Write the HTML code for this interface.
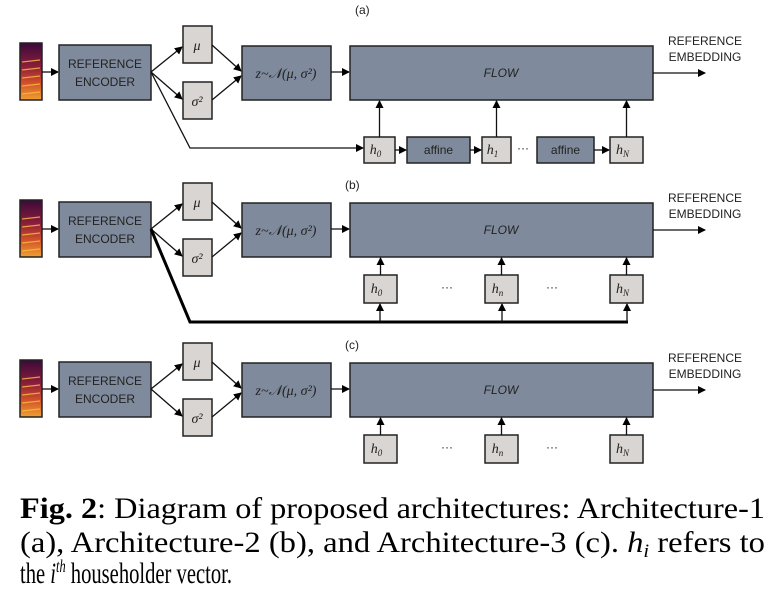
<!DOCTYPE html>
<html><head><meta charset="utf-8"><style>
html,body{margin:0;padding:0;background:#fff;}
svg{display:block;}
.d{fill:#7f8b9c;stroke:#222;stroke-width:1.5;}
.l{fill:#d8d5d2;stroke:#222;stroke-width:1.5;}
.t{font-family:"Liberation Sans",sans-serif;font-size:12px;fill:#222;}
.m{font-family:"Liberation Serif",serif;font-style:italic;font-size:14px;fill:#222;}
.ln{stroke:#111;stroke-width:1.3;fill:none;}
.cap{font-family:"Liberation Serif",serif;font-size:30px;fill:#000;}
</style></head><body>
<svg width="774" height="609" viewBox="0 0 774 609">
<defs>
<marker id="ar" markerWidth="8" markerHeight="8" refX="7" refY="4" orient="auto" markerUnits="userSpaceOnUse"><path d="M0,0 L8,4 L0,8 z" fill="#000"/></marker>
<linearGradient id="sp" x1="0" y1="0" x2="0" y2="1"><stop offset="0" stop-color="#3a0a3a"/><stop offset="0.4" stop-color="#8a1c3c"/><stop offset="0.7" stop-color="#d2502a"/><stop offset="1" stop-color="#f0a030"/></linearGradient>
</defs>
<g id="panels"></g>
<text class="cap" x="20" y="518" textLength="745" lengthAdjust="spacingAndGlyphs"><tspan font-weight="bold">Fig. 2</tspan>:  Diagram of proposed architectures:  Architecture-1</text>
<text class="cap" x="20" y="552" textLength="745" lengthAdjust="spacingAndGlyphs">(a), Architecture-2 (b), and Architecture-3 (c).  <tspan font-style="italic">h<tspan font-size="19" dy="5">i</tspan></tspan><tspan dy="-5"> refers to</tspan></text>
<text class="cap" x="20" y="583" textLength="212" lengthAdjust="spacingAndGlyphs">the <tspan font-style="italic">i<tspan font-size="18" dy="-11">th</tspan></tspan><tspan dy="11"> householder vector.</tspan></text>
</svg>
<script>
const NS='http://www.w3.org/2000/svg';
const g=document.getElementById('panels');
function el(tag,attrs,parent,txt){const e=document.createElementNS(NS,tag);for(const k in attrs)e.setAttribute(k,attrs[k]);if(txt!==undefined)e.textContent=txt;(parent||g).appendChild(e);return e;}
const labels=['(a)','(b)','(c)'];
const offsets=[0,157,317];
const labelX=[355,345,345];
offsets.forEach((dy,p)=>{
  const pg=el('g',{transform:'translate(0,'+dy+')'});
  
  
  const lb=el('text',{class:'t',x:labelX[p],y:p===0?14:32,'font-size':'12'},pg,labels[p]);
  
  const sp=el('rect',{x:20,y:43,width:22,height:57,fill:'url(#sp)',stroke:'#222','stroke-width':1.5},pg);
  
  for(let i=0;i<5;i++)el('line',{x1:22,x2:40,y1:62+i*8,y2:60+i*8,stroke:'#f7c040','stroke-width':1.2,opacity:0.8},pg);
  el('line',{class:'ln',x1:42,y1:72,x2:58,y2:72,'marker-end':'url(#ar)'},pg);
  const enc=el('rect',{class:'d',x:59,y:45,width:92,height:55},pg);
  
  el('text',{class:'t',x:105,y:68,'text-anchor':'middle'},pg,'REFERENCE');
  el('text',{class:'t',x:105,y:86,'text-anchor':'middle'},pg,'ENCODER');
  const mu=el('rect',{class:'l',x:183,y:26,width:29,height:37},pg);
  
  el('text',{class:'m',x:197,y:50,'text-anchor':'middle'},pg,'μ');
  const sg=el('rect',{class:'l',x:183,y:82,width:29,height:37},pg);
  
  el('text',{class:'m',x:197,y:106,'text-anchor':'middle'},pg,'σ²');
  el('line',{class:'ln',x1:151,y1:72,x2:182,y2:47,'marker-end':'url(#ar)'},pg);
  el('line',{class:'ln',x1:151,y1:72,x2:182,y2:99,'marker-end':'url(#ar)'},pg);
  el('line',{class:'ln',x1:212,y1:45,x2:241,y2:71,'marker-end':'url(#ar)'},pg);
  el('line',{class:'ln',x1:212,y1:100,x2:241,y2:76,'marker-end':'url(#ar)'},pg);
  const z=el('rect',{class:'d',x:242,y:46,width:89,height:54},pg);
  
  el('text',{class:'m',x:286,y:78,'text-anchor':'middle','font-size':'14'},pg,'z~𝒩(μ, σ²)');
  el('line',{class:'ln',x1:331,y1:72,x2:349,y2:72,'marker-end':'url(#ar)'},pg);
  const fl=el('rect',{class:'d',x:350,y:46,width:303,height:54},pg);
  
  el('text',{class:'t',x:501,y:77,'text-anchor':'middle','font-style':'italic'},pg,'FLOW');
  el('line',{class:'ln',x1:653,y1:73,x2:705,y2:73,'marker-end':'url(#ar)'},pg);
  el('text',{class:'t',x:705,y:45,'text-anchor':'middle'},pg,'REFERENCE');
  el('text',{class:'t',x:705,y:61,'text-anchor':'middle'},pg,'EMBEDDING');
  const hy=p===0?137:118, hh=p===0?26:28;
  let boxes;
  if(p===0){
    boxes=[[364,31,'h','0'],[407,63,'affine'],[482,29,'h','1'],[537,57,'affine'],[610,33,'h','N']];
  } else {
    boxes=[[364,33,'h','0'],[485,33,'h','n'],[610,33,'h','N']];
  }
  boxes.forEach((b,i)=>{
    const r=el('rect',{class:b[2]==='affine'?'d':'l',x:b[0],y:hy,width:b[1],height:hh},pg);
    
    
    if(b[2]==='affine') el('text',{class:'t',x:b[0]+b[1]/2,y:hy+hh/2+4,'text-anchor':'middle'},pg,'affine');
    else {const t=el('text',{class:'m',x:b[0]+b[1]/2-4,y:hy+hh/2+4,'text-anchor':'middle'},pg,'h');el('tspan',{'font-size':'9',dy:'3'},t,b[3]);}
    if(b[2]!=='affine') el('line',{class:'ln',x1:b[0]+b[1]/2,y1:hy,x2:b[0]+b[1]/2,y2:101,'marker-end':'url(#ar)'},pg);
  });
  if(p===0){
    el('line',{class:'ln',x1:395,y1:150,x2:406,y2:150,'marker-end':'url(#ar)'},pg);
    el('line',{class:'ln',x1:470,y1:150,x2:481,y2:150,'marker-end':'url(#ar)'},pg);
    el('text',{class:'t',x:523,y:152,'text-anchor':'middle'},pg,'···');
    el('line',{class:'ln',x1:594,y1:150,x2:609,y2:150,'marker-end':'url(#ar)'},pg);
    el('polyline',{class:'ln',points:'151,72 190,148 363,148','marker-end':'url(#ar)'},pg);
  } else {
    el('text',{class:'t',x:447,y:134,'text-anchor':'middle'},pg,'···');
    el('text',{class:'t',x:552,y:134,'text-anchor':'middle'},pg,'···');
  }
  if(p===1){
    el('polyline',{points:'151,72 190,165 628,165',fill:'none',stroke:'#000','stroke-width':3},pg);
    [380,502,627].forEach(x=>el('line',{class:'ln',x1:x,y1:165,x2:x,y2:147,'marker-end':'url(#ar)'},pg));
  }
});
</script>
</body></html>
